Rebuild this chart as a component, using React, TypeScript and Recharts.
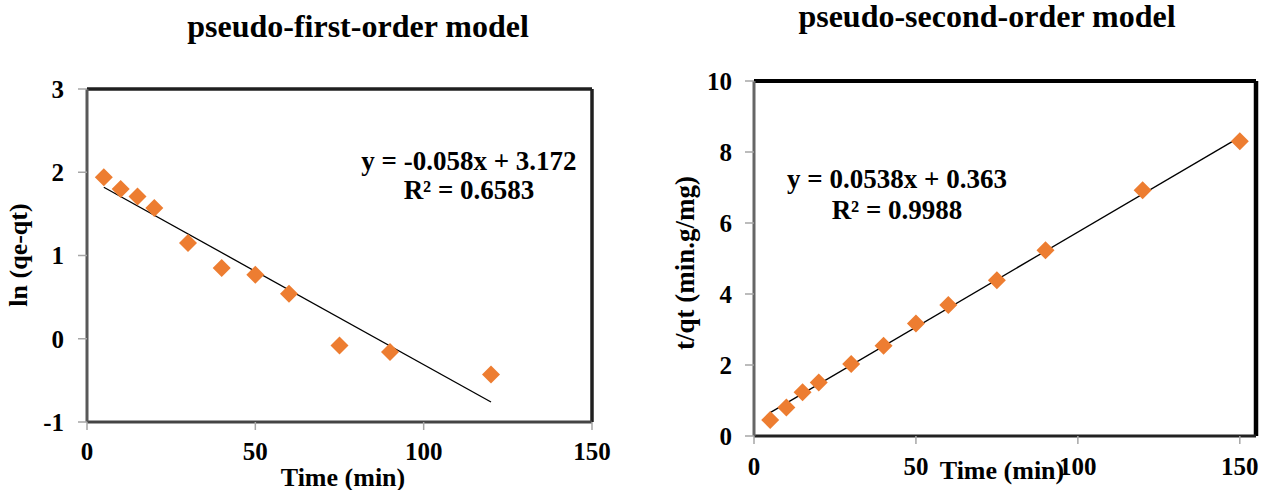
import React from 'react';
import { ScatterChart, Scatter, XAxis, YAxis, ReferenceLine } from 'recharts';

// ---- data ----
const firstTime = [5, 10, 15, 20, 30, 40, 50, 60, 75, 90, 120];
const firstLn = [1.94, 1.8, 1.71, 1.57, 1.15, 0.85, 0.77, 0.54, -0.08, -0.16, -0.43];
const firstTrend = [
  { x: 5, y: 1.82 },
  { x: 120, y: -0.76 },
];
const firstXTicks = [0, 50, 100, 150];
const firstYTicks = [-1, 0, 1, 2, 3];

const secondTime = [5, 10, 15, 20, 30, 40, 50, 60, 75, 90, 120, 150];
const secondTq = [0.45, 0.8, 1.23, 1.51, 2.03, 2.54, 3.17, 3.69, 4.39, 5.23, 6.92, 8.3];
const secondTrend = [
  { x: 5, y: 0.66 },
  { x: 150, y: 8.42 },
];
const secondXTicks = [0, 50, 100, 150];
const secondYTicks = [0, 2, 4, 6, 8, 10];

const firstData = firstTime.map((t, i) => ({ x: t, y: firstLn[i] }));
const secondData = secondTime.map((t, i) => ({ x: t, y: secondTq[i] }));

const FONT = '"Liberation Serif", "Times New Roman", serif';
const ORANGE = '#ED7D31';

const Diamond = (p: any) => {
  const { cx, cy } = p;
  if (cx == null || cy == null) return <g />;
  const r = 9;
  return (
    <polygon
      points={`${cx},${cy - r} ${cx + r},${cy} ${cx},${cy + r} ${cx - r},${cy}`}
      fill={ORANGE}
    />
  );
};

const XTick = (p: any) => (
  <text
    x={p.x}
    y={p.y}
    dy="0.71em"
    textAnchor="middle"
    fontFamily={FONT}
    fontWeight={700}
    fontSize={25}
    fill="#000"
  >
    {p.payload.value}
  </text>
);

const YTick = (p: any) => (
  <text
    x={p.x}
    y={p.y}
    dy="0.355em"
    textAnchor="end"
    fontFamily={FONT}
    fontWeight={700}
    fontSize={25}
    fill="#000"
  >
    {p.payload.value}
  </text>
);

export default function App() {
  return (
    <div
      style={{
        position: 'absolute',
        left: 0,
        top: 0,
        width: 1262,
        height: 490,
        background: '#fff',
        overflow: 'hidden',
      }}
    >
      <div style={{ position: 'absolute', left: 0, top: 0 }}>
        <ScatterChart width={620} height={490} margin={{ top: 89, right: 28, bottom: 0, left: 0 }}>
          <XAxis
            type="number"
            dataKey="x"
            domain={[0, 150]}
            ticks={firstXTicks}
            height={68}
            tickSize={8}
            tickMargin={12}
            tick={<XTick />}
            axisLine={{ stroke: '#444', strokeWidth: 3 }}
            tickLine={{ stroke: '#a6a6a6', strokeWidth: 1.5 }}
            allowDataOverflow
          />
          <YAxis
            type="number"
            dataKey="y"
            domain={[-1, 3]}
            ticks={firstYTicks}
            width={87}
            tickSize={9}
            tickMargin={14}
            tick={<YTick />}
            axisLine={{ stroke: '#595959', strokeWidth: 3 }}
            tickLine={{ stroke: '#a6a6a6', strokeWidth: 1.5 }}
            allowDataOverflow
          />
          <ReferenceLine y={3} stroke="#1f1f1f" strokeWidth={3.5} ifOverflow="visible" />
          <ReferenceLine x={150} stroke="#1f1f1f" strokeWidth={3.5} ifOverflow="visible" />
          <Scatter data={firstData} shape={Diamond} isAnimationActive={false} />
          <ReferenceLine
            segment={firstTrend}
            stroke="#000"
            strokeWidth={1.3}
            ifOverflow="visible"
          />
        </ScatterChart>
      </div>
      <div style={{ position: 'absolute', left: 630, top: 0 }}>
        <ScatterChart width={632} height={490} margin={{ top: 81, right: 6, bottom: 0, left: 0 }}>
          <XAxis
            type="number"
            dataKey="x"
            domain={[0, 155]}
            ticks={secondXTicks}
            height={54}
            tickSize={8}
            tickMargin={13}
            tick={<XTick />}
            axisLine={{ stroke: '#222', strokeWidth: 3 }}
            tickLine={{ stroke: '#a6a6a6', strokeWidth: 1.5 }}
            allowDataOverflow
          />
          <YAxis
            type="number"
            dataKey="y"
            domain={[0, 10]}
            ticks={secondYTicks}
            width={124}
            tickSize={9}
            tickMargin={13}
            tick={<YTick />}
            axisLine={{ stroke: '#666', strokeWidth: 3 }}
            tickLine={{ stroke: '#a6a6a6', strokeWidth: 1.5 }}
            allowDataOverflow
          />
          <ReferenceLine y={10} stroke="#000" strokeWidth={4} ifOverflow="visible" />
          <ReferenceLine x={155} stroke="#000" strokeWidth={4.5} ifOverflow="visible" />
          <Scatter data={secondData} shape={Diamond} isAnimationActive={false} />
          <ReferenceLine
            segment={secondTrend}
            stroke="#000"
            strokeWidth={1.3}
            ifOverflow="visible"
          />
        </ScatterChart>
      </div>
      <svg
        width={1262}
        height={490}
        style={{ position: 'absolute', left: 0, top: 0, pointerEvents: 'none' }}
      >
        <g fontFamily={FONT} fontWeight={700} fill="#000">
          <text x={358} y={37} fontSize={32} textAnchor="middle">
            pseudo-first-order model
          </text>
          <text x={987} y={27} fontSize={32} textAnchor="middle">
            pseudo-second-order model
          </text>
          <text x={469} y={170} fontSize={27} textAnchor="middle">
            y = -0.058x + 3.172
          </text>
          <text x={469} y={199} fontSize={27} textAnchor="middle">
            R² = 0.6583
          </text>
          <text x={897} y={188} fontSize={27} textAnchor="middle">
            y = 0.0538x + 0.363
          </text>
          <text x={897} y={219} fontSize={27} textAnchor="middle">
            R² = 0.9988
          </text>
          <text x={343} y={486} fontSize={26} textAnchor="middle">
            Time (min)
          </text>
          <text x={1002} y={479} fontSize={26} textAnchor="middle">
            Time (min)
          </text>
          <text
            x={0}
            y={0}
            fontSize={26}
            textAnchor="middle"
            transform="translate(27,255) rotate(-90)"
          >
            ln (qe-qt)
          </text>
          <text
            x={0}
            y={0}
            fontSize={27}
            textAnchor="middle"
            transform="translate(694,263) rotate(-90)"
          >
            t/qt (min.g/mg)
          </text>
        </g>
      </svg>
    </div>
  );
}
